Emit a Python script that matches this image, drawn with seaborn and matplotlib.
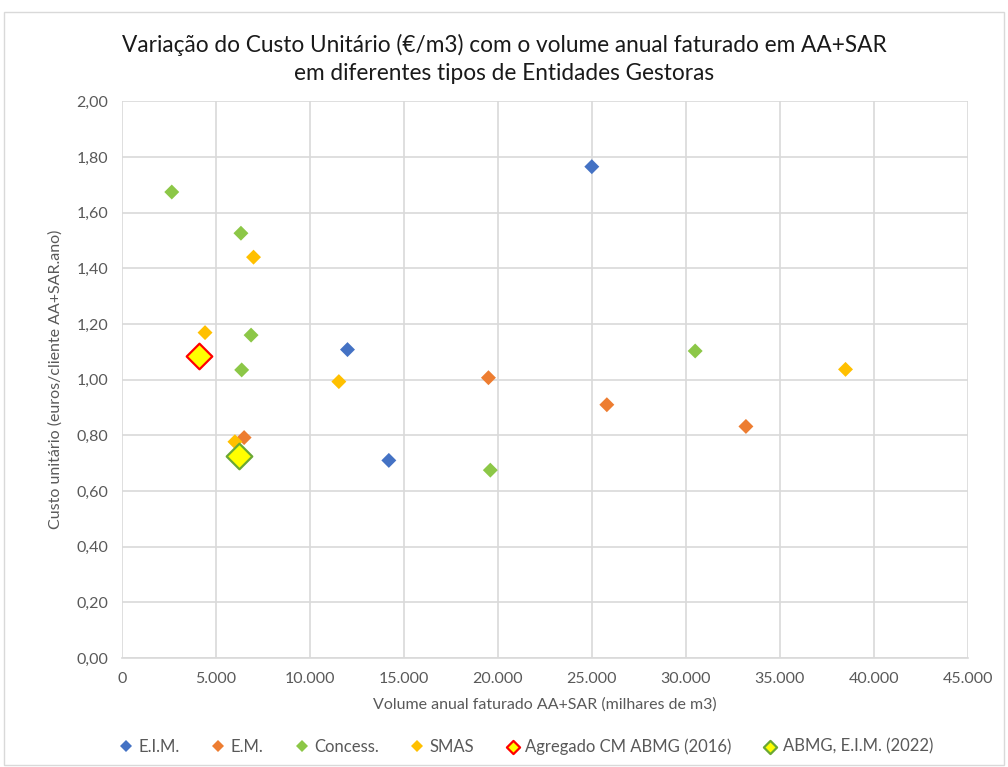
import pandas as pd
import matplotlib.pyplot as plt
import seaborn as sns
from matplotlib.ticker import FuncFormatter, MultipleLocator
from matplotlib.patches import Rectangle

# Dados (volume em milhares de m3, custo unitário)
eim_x = [25000, 12000, 14200]
eim_y = [1.765, 1.108, 0.710]
em_x = [19500, 25800, 33200, 6500]
em_y = [1.007, 0.910, 0.832, 0.792]
concess_x = [2650, 6330, 6870, 6370, 30500, 19600]
concess_y = [1.674, 1.526, 1.160, 1.035, 1.103, 0.675]
smas_x = [7000, 4420, 11540, 6010, 38500]
smas_y = [1.440, 1.169, 0.993, 0.777, 1.037]
agregado_x = [4120]
agregado_y = [1.086]
abmg_x = [6220]
abmg_y = [0.727]

categorias = ['E.I.M.', 'E.M.', 'Concess.', 'SMAS']
cores = {'E.I.M.': '#4472C4', 'E.M.': '#ED7D31', 'Concess.': '#8CC747', 'SMAS': '#FFC000'}

df = pd.concat([
    pd.DataFrame({'volume': eim_x, 'custo': eim_y, 'tipo': 'E.I.M.'}),
    pd.DataFrame({'volume': em_x, 'custo': em_y, 'tipo': 'E.M.'}),
    pd.DataFrame({'volume': concess_x, 'custo': concess_y, 'tipo': 'Concess.'}),
    pd.DataFrame({'volume': smas_x, 'custo': smas_y, 'tipo': 'SMAS'}),
], ignore_index=True)

sns.set_style('white')
plt.rcParams['font.family'] = ['Lato', 'DejaVu Sans']

fig = plt.figure(figsize=(10.08, 7.67), dpi=100)
ax = fig.add_axes([0.121, 0.142, 0.839, 0.726])

sns.scatterplot(data=df, x='volume', y='custo', hue='tipo', hue_order=categorias,
                palette=cores, marker='D', s=58, linewidth=0, ax=ax, zorder=3)
sns.scatterplot(x=agregado_x, y=agregado_y, marker='D', s=170, color='#FFFF00',
                edgecolor='#FF0000', linewidth=1.6, label='Agregado CM ABMG (2016)',
                ax=ax, zorder=4)
sns.scatterplot(x=abmg_x, y=abmg_y, marker='D', s=170, color='#FFFF00',
                edgecolor='#6AA834', linewidth=1.6, label='ABMG, E.I.M. (2022)',
                ax=ax, zorder=4)

# Eixos
ax.set_xlim(0, 45000)
ax.set_ylim(0, 2.0)
ax.xaxis.set_major_locator(MultipleLocator(5000))
ax.yaxis.set_major_locator(MultipleLocator(0.2))
ax.xaxis.set_major_formatter(FuncFormatter(lambda v, p: f'{int(v):,}'.replace(',', '.')))
ax.yaxis.set_major_formatter(FuncFormatter(lambda v, p: f'{v:.2f}'.replace('.', ',')))
ax.grid(True, color='#D9D9D9', linewidth=1.2)
ax.set_axisbelow(True)
for lado in ['top', 'right', 'left']:
    ax.spines[lado].set_visible(False)
ax.spines['bottom'].set_color('#D9D9D9')
ax.spines['bottom'].set_linewidth(1.2)
ax.tick_params(axis='both', length=0, labelsize=11.5, colors='#595959', pad=10)

ax.set_xlabel('Volume anual faturado AA+SAR (milhares de m3)', fontsize=11.5, color='#595959', labelpad=8)
ax.set_ylabel('Custo unitário (euros/cliente AA+SAR.ano)', fontsize=11.5, color='#595959', labelpad=10)

# Título (duas linhas)
fig.text(0.5, 1 - 45 / 767, 'Variação do Custo Unitário (€/m3) com o volume anual faturado em AA+SAR',
         ha='center', va='center', fontsize=16.3, color='#1a1a1a')
fig.text(0.5, 1 - 73 / 767, 'em diferentes tipos de Entidades Gestoras',
         ha='center', va='center', fontsize=16.3, color='#1a1a1a')

# Legenda
h, l = ax.get_legend_handles_labels()
ax.get_legend().remove()
fig.legend(h, l, loc='center', bbox_to_anchor=(0.522, 0.027), ncol=6, frameon=False,
           fontsize=12, labelcolor='#595959', handlelength=0.8, handletextpad=0.35,
           columnspacing=1.9)
for t in fig.legends[0].legend_handles:
    if hasattr(t, 'set_markersize'):
        t.set_markersize(6.5)
    else:
        t.set_sizes([45])

# Moldura do gráfico
fig.patches.append(Rectangle((0.004, 0.002), 0.992, 0.983, transform=fig.transFigure,
                             fill=False, edgecolor='#D9D9D9', linewidth=1))

plt.savefig('out.png', dpi=100)
